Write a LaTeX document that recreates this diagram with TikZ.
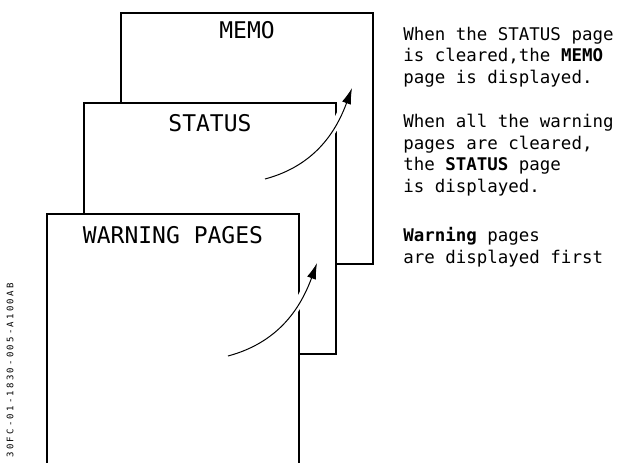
\documentclass[tikz,border=0pt]{standalone}
\usepackage{fontspec}
\usetikzlibrary{arrows.meta}
\newfontfamily\pagefont{DejaVu Sans Mono}
\newfontfamily\codefont[LetterSpace=25]{DejaVu Sans Mono}
\begin{document}
\begin{tikzpicture}[x=0.75pt, y=-0.75pt,
    page/.style={draw=black, fill=white, line width=0.9pt, inner sep=0pt, outer sep=0pt, minimum width=189pt, minimum height=188.25pt, anchor=north west},
    pagetitle/.style={anchor=base, inner sep=0pt, font=\pagefont\fontsize{17.25}{20}\selectfont},
    note/.style={anchor=base west, align=left, inner sep=0pt, font=\pagefont\fontsize{13.1}{16.1}\selectfont},
    flow/.style={-{Latex[length=12pt, width=7pt]}, line width=0.75pt, preaction={draw=white, line width=6.5pt, -}}]
    \useasboundingbox (0,0) rectangle (621,462);

    \node [page] (memo) at (121,13) {};
    \node [page] (status) at (84,103) {};
    \node [page] (warn) at (47,214) {};
    \node [pagetitle] (memott) at (247,38) {MEMO};
    \node [pagetitle] (statustt) at (210,131) {STATUS};
    \node [pagetitle] (warntt) at (173,243) {WARNING PAGES};

    \coordinate (up1) at (265,179); \coordinate (up2) at (352,88);
    \coordinate (lo1) at (228,356); \coordinate (lo2) at (317,263);
    \draw [flow] (up1) to[out=15, in=250] (up2);
    \draw [flow] (lo1) to[out=15, in=250] (lo2);

    \node [note] (memonote) at (403,83) {When the STATUS page\\is cleared,the \textbf{MEMO}\\page is displayed.};
    \node [note] (statusnote) at (403,192) {When all the warning\\pages are cleared,\\the \textbf{STATUS} page\\is displayed.};
    \node [note] (warnnote) at (403,263) {\textbf{Warning} pages\\are displayed first};

    \node [rotate=90, anchor=east, inner sep=0pt, font=\codefont\fontsize{6.75}{8}\selectfont] (figref) at (10,283) {30FC-01-1830-005-A100AB};
\end{tikzpicture}
\end{document}
